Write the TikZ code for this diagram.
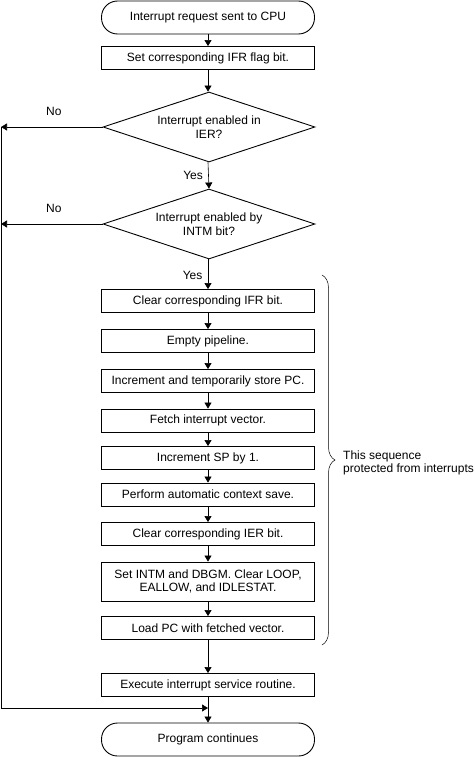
\documentclass[tikz,border=0pt]{standalone}
\usepackage{fontspec}
\setmainfont{Liberation Sans}
\usetikzlibrary{arrows.meta,shapes.geometric,decorations.pathreplacing}
\begin{document}
\begin{tikzpicture}[x=1pt,y=-1pt,
    font=\fontsize{12}{13.5}\selectfont,
    box/.style={draw,line width=0.9pt,minimum width=213pt,minimum height=23pt,inner sep=0pt,align=center},
    term/.style={box,rounded corners=16pt,minimum height=33pt},
    decision/.style={draw,diamond,line width=0.9pt,minimum width=212pt,minimum height=70pt,inner sep=0pt,aspect=3,align=center},
    flow/.style={-{Triangle[width=7pt,length=6pt]},line width=0.6pt}]
    \useasboundingbox (0,0) rectangle (474,757);
    \node[term] (req) at (208,17.5) {Interrupt request sent to CPU};
    \node[box] (setifr) at (208,58) {Set corresponding IFR flag bit.};
    \node[decision] (ier) at (209,127) {Interrupt enabled in\\IER?};
    \node[decision] (intm) at (209,224) {Interrupt enabled by\\INTM bit?};
    \node[box] (clrifr) at (208,301) {Clear corresponding IFR bit.};
    \node[box] (pipe) at (208,341) {Empty pipeline.};
    \node[box] (incpc) at (208,381) {Increment and temporarily store PC.};
    \node[box] (fetch) at (208,420.5) {Fetch interrupt vector.};
    \node[box] (incsp) at (208,458) {Increment SP by 1.};
    \node[box] (save) at (208,494.5) {Perform automatic context save.};
    \node[box] (clrier) at (208,534) {Clear corresponding IER bit.};
    \node[box,minimum height=39pt] (setintm) at (208,581.5) {Set INTM and DBGM. Clear LOOP,\\EALLOW, and IDLESTAT.};
    \node[box] (loadpc) at (208,628) {Load PC with fetched vector.};
    \node[box] (isr) at (208,685) {Execute interrupt service routine.};
    \node[term] (prog) at (208,739.5) {Program continues};
    % main path
    \draw[flow] (req) -- (setifr);
    \draw[flow] (setifr.south) -- (setifr.south |- ier.north);
    \draw[flow] (ier.south -| setifr.south) -- node[left,xshift=-2pt] (yes1) {Yes} (ier.south |- intm.north);
    \draw[flow] (intm.south -| setifr.south) -- node[left,xshift=-2pt,pos=0.55] (yes2) {Yes} (clrifr);
    \draw[flow] (clrifr) -- (pipe);
    \draw[flow] (pipe) -- (incpc);
    \draw[flow] (incpc) -- (fetch);
    \draw[flow] (fetch) -- (incsp);
    \draw[flow] (incsp) -- (save);
    \draw[flow] (save) -- (clrier);
    \draw[flow] (clrier) -- (setintm);
    \draw[flow] (setintm) -- (loadpc);
    \draw[flow] (loadpc) -- (isr);
    \draw[flow] (isr) -- (prog);
    % "No" branches back to the end
    \coordinate (noA) at (1,127);
    \coordinate (noB) at (1,224);
    \coordinate (back) at (1,708);
    \coordinate (join) at (208,708);
    \draw[flow] (ier.west) -- node[above,pos=0.48,yshift=8pt] (no1) {No} (noA);
    \draw[flow] (intm.west) -- node[above,pos=0.48,yshift=8pt] (no2) {No} (noB);
    \draw[line width=0.6pt] (noA) -- (back);
    \draw[flow] (back) -- (join);
    % protected sequence
    \draw[decorate,decoration={brace,amplitude=13pt},line width=0.5pt] (322,275) -- (322,645);
    \node[anchor=west,align=left,inner sep=0pt] (prot) at (343,463) {This sequence\\protected from interrupts};
\end{tikzpicture}
\end{document}
